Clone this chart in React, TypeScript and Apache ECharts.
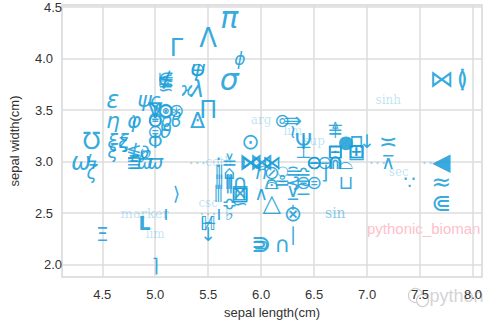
import React, { useEffect, useRef } from "react";
import * as echarts from "echarts";

const sepalLength = [
  5.1, 4.9, 4.7, 4.6, 5.0, 5.4, 4.6, 5.0, 4.4, 4.9, 5.4, 4.8, 4.8, 4.3, 5.8, 5.7, 5.4, 5.1, 5.7, 5.1,
  5.4, 5.1, 4.6, 5.1, 4.8, 5.0, 5.0, 5.2, 5.2, 4.7, 4.8, 5.4, 5.2, 5.5, 4.9, 5.0, 5.5, 4.9, 4.4, 5.1,
  5.0, 4.5, 4.4, 5.0, 5.1, 4.8, 5.1, 4.6, 5.3, 5.0, 7.0, 6.4, 6.9, 5.5, 6.5, 5.7, 6.3, 4.9, 6.6, 5.2,
  5.0, 5.9, 6.0, 6.1, 5.6, 6.7, 5.6, 5.8, 6.2, 5.6, 5.9, 6.1, 6.3, 6.1, 6.4, 6.6, 6.8, 6.7, 6.0, 5.7,
  5.5, 5.5, 5.8, 6.0, 5.4, 6.0, 6.7, 6.3, 5.6, 5.5, 5.5, 6.1, 5.8, 5.0, 5.6, 5.7, 5.7, 6.2, 5.1, 5.7,
  6.3, 5.8, 7.1, 6.3, 6.5, 7.6, 4.9, 7.3, 6.7, 7.2, 6.5, 6.4, 6.8, 5.7, 5.8, 6.4, 6.5, 7.7, 7.7, 6.0,
  6.9, 5.6, 7.7, 6.3, 6.7, 7.2, 6.2, 6.1, 6.4, 7.2, 7.4, 7.9, 6.4, 6.3, 6.1, 7.7, 6.3, 6.4, 6.0, 6.9,
  6.7, 6.9, 5.8, 6.8, 6.7, 6.7, 6.3, 6.5, 6.2, 5.9,
];

const sepalWidth = [
  3.5, 3.0, 3.2, 3.1, 3.6, 3.9, 3.4, 3.4, 2.9, 3.1, 3.7, 3.4, 3.0, 3.0, 4.0, 4.4, 3.9, 3.5, 3.8, 3.8,
  3.4, 3.7, 3.6, 3.3, 3.4, 3.0, 3.4, 3.5, 3.4, 3.2, 3.1, 3.4, 4.1, 4.2, 3.1, 3.2, 3.5, 3.6, 3.0, 3.4,
  3.5, 2.3, 3.2, 3.5, 3.8, 3.0, 3.8, 3.2, 3.7, 3.3, 3.2, 3.2, 3.1, 2.3, 2.8, 2.8, 3.3, 2.4, 2.9, 2.7,
  2.0, 3.0, 2.2, 2.9, 2.9, 3.1, 3.0, 2.7, 2.2, 2.5, 3.2, 2.8, 2.5, 2.8, 2.9, 3.0, 2.8, 3.0, 2.9, 2.6,
  2.4, 2.4, 2.7, 2.7, 3.0, 3.4, 3.1, 2.3, 3.0, 2.5, 2.6, 3.0, 2.6, 2.3, 2.7, 3.0, 2.9, 2.9, 2.5, 2.8,
  3.3, 2.7, 3.0, 2.9, 3.0, 3.0, 2.5, 2.9, 2.5, 3.6, 3.2, 2.7, 3.0, 2.5, 2.8, 3.2, 3.0, 3.8, 2.6, 2.2,
  3.2, 2.8, 2.8, 2.7, 3.3, 3.2, 2.8, 3.0, 2.8, 3.0, 2.8, 3.8, 2.8, 2.8, 2.6, 3.0, 3.4, 3.1, 3.0, 3.1,
  3.1, 3.1, 2.7, 3.2, 3.3, 3.0, 2.5, 3.0, 3.4, 3.0,
];

// marker glyph drawn for each flower, in dataset order
const markerGlyphs = [
  "⊚", "ϖ", "ȥ", "ξ", "ς", "ψ", "η", "⊝", "ζ", "∂", "λ", "φ", "Ξ", "ω", "ϕ", "π", "⊖", "⊙", "σ", "∉",
  "Δ", "∽", "ε", "ϑ", "≀", "ϖ", "Θ", "⊛", "ϐ", "ξ", "≸", "⋅", "Γ", "Λ", "℘", "Φ", "Π", "ψ", "ϟ", "ϱ",
  "∇", "Ξ", "℧", "ϒ", "⊭", "≣", "≨", "ξ", "ϰ", "⊜", "↓", "Ψ", "⊞", "↓", "⊜", "‖", "lim", "L", "⌋", "⟩",
  "⌉", "⋈", "⋑", "⊘", "⦀", "⊡", "coth", "⊠", "∩", "ı", "⊙", "⩀", "⊗", "⌓", "≏", "⊖", "⊔", "⋒", "ℏ", "≎",
  "ℍ", "⊬", "∩", "∧", "⋯", "arg", "⊟", "∣", "∶", "⋯", "csc", "⋉", "∽", "lim", "⫼", "≚", "⌂", "⍜", "ı", "⦀",
  "≀", "□", "⋯", "≘", "⊖", "⋯", "marker", "sec", "sin", "sinh", "sup", "−", "⌓", "♭", "∩", "⊥", "⊝", "⋈", "⋐", "⊃",
  "⊓", "⦀", "≈", "⊻", "≜", "≍", "≗", "⋊", "⊝", "⊼", "∵", "≬", "≂", "⊰", "△", "◀", "⇛", "⊥", "⋈", "⊞",
  "⊟", "□", "□", "●", "⊤", "∩", "ˈ", "⊖", "⊚", "⋉",
];

const xTicks = [4.5, 5.0, 5.5, 6.0, 6.5, 7.0, 7.5, 8.0];
const yTicks = [2.0, 2.5, 3.0, 3.5, 4.0, 4.5];

const xLabel = "sepal length(cm)";
const yLabel = "sepal width(cm)";
const watermark = "pythonic_bioman";

const BLUE = "#1b9fd9";
const bigGlyphs: Record<string, number> = {
  "π": 30, "σ": 30, "Γ": 24, "Λ": 26, "Π": 24, "⋈": 24, "◀": 24, "⋐": 24, "≈": 24, "⊗": 22,
  "⋑": 24, "∩": 22, "Δ": 22, "ε": 24, "ψ": 22, "η": 22, "φ": 22, "℧": 24, "ω": 24, "⊠": 22, "⇛": 22,
  "≍": 22, "●": 18, "⊞": 20, "Ψ": 22, "≬": 24, "△": 24, "⊙": 22, "ϕ": 17, "λ": 23, "∇": 22, "Ξ": 20,
};

export default function App() {
  const ref = useRef<HTMLDivElement>(null);
  useEffect(() => {
    if (!ref.current) return;
    const chart = echarts.init(ref.current, null, { renderer: "svg" });
    const data = sepalLength.map((x, i) => [x, sepalWidth[i], i]);
    const tickFont = { color: "#333", fontSize: 13, fontFamily: "Liberation Sans" };
    chart.setOption({
      animation: false,
      backgroundColor: "#ffffff",
      grid: {
        left: 62,
        right: 10,
        top: 5,
        bottom: 51,
        show: true,
        borderColor: "#d6d6d6",
        borderWidth: 1.5,
        backgroundColor: "transparent",
        containLabel: false,
        outerBoundsMode: "none",
      },
      xAxis: {
        type: "value",
        min: 4.12,
        max: 8.085,
        axisLine: { show: false },
        axisTick: { show: false, customValues: xTicks },
        axisLabel: {
          customValues: xTicks,
          formatter: (v: number) => v.toFixed(1),
          margin: 11,
          align: "center",
          alignMinLabel: "center",
          alignMaxLabel: "center",
          hideOverlap: false,
          ...tickFont,
        },
        splitLine: { show: true, lineStyle: { color: "#dcdcdc", width: 1.5 } },
        name: xLabel,
        nameLocation: "middle",
        nameGap: 29,
        nameMoveOverlap: false,
        nameTextStyle: { color: "#333", fontSize: 13, fontFamily: "Liberation Sans" },
      },
      yAxis: {
        type: "value",
        min: 1.88,
        max: 4.52,
        axisLine: { show: false },
        axisTick: { show: false, customValues: yTicks },
        axisLabel: {
          customValues: yTicks,
          formatter: (v: number) => v.toFixed(1),
          margin: 9,
          align: "right",
          verticalAlign: "middle",
          alignMinLabel: "middle",
          alignMaxLabel: "middle",
          hideOverlap: false,
          ...tickFont,
        },
        splitLine: { show: true, lineStyle: { color: "#dcdcdc", width: 1.5 } },
        name: yLabel,
        nameLocation: "middle",
        nameGap: 41,
        nameMoveOverlap: false,
        nameTextStyle: { color: "#333", fontSize: 13, fontFamily: "Liberation Sans" },
      },
      series: [
        {
          type: "custom",
          data,
          renderItem: (params: any, api: any) => {
            const p = api.coord([api.value(0), api.value(1)]);
            const g = markerGlyphs[params.dataIndex];
            const isWord = /^[a-z]{2,}$/.test(g);
            const size = isWord ? (g === "sin" ? 14 : g === "marker" ? 13 : 12) : bigGlyphs[g] || 19;
            const italic = /[α-ωϕϖϑϱςϐ]/.test(g);
            return {
              type: "text",
              x: p[0],
              y: p[1],
              style: {
                text: g,
                fontSize: size,
                fontFamily: isWord ? "DejaVu Serif" : "DejaVu Sans",
                fontStyle: italic ? "italic" : "normal",
                fontWeight: g === "L" ? "bold" : "normal",
                fill: BLUE,
                opacity: isWord ? (g === "sin" ? 0.55 : 0.3) : g === "⋯" ? 0.35 : 0.9,
                align: "center",
                verticalAlign: "middle",
              },
            };
          },
        },
      ],
      graphic: [
        {
          type: "text",
          left: 367,
          top: 221,
          style: {
            text: watermark,
            fill: "#ffc0cb",
            fontSize: 15,
            fontFamily: "Liberation Sans",
          },
        },
        {
          type: "group",
          left: 406,
          top: 286,
          children: [
            { type: "circle", shape: { cx: 10, cy: 8, r: 7 }, style: { fill: "none", stroke: "#d0d0d0", lineWidth: 1.2 } },
            { type: "circle", shape: { cx: 17, cy: 13, r: 6 }, style: { fill: "#fff", stroke: "#d0d0d0", lineWidth: 1.2 } },
            {
              type: "text",
              x: 24,
              y: -1,
              style: { text: "python", fill: "#d4d4d4", fontSize: 18, fontFamily: "Liberation Sans" },
            },
          ],
        },
      ],
    });
    return () => chart.dispose();
  }, []);
  return <div ref={ref} style={{ width: 492, height: 328, position: "absolute", left: 0, top: 0 }} />;
}
